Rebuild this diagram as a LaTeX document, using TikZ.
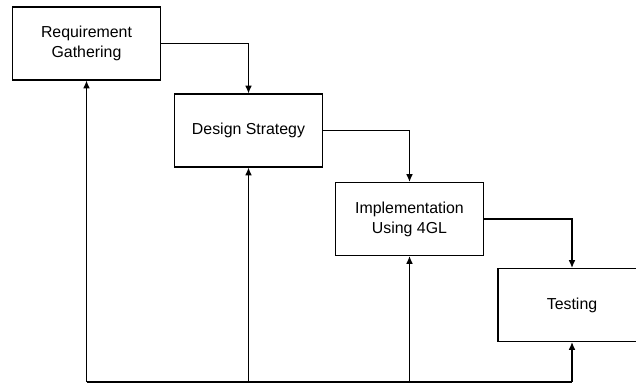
\documentclass[tikz,border=0pt]{standalone}
\usepackage{fontspec}
\setmainfont{Liberation Sans}
\usetikzlibrary{arrows.meta}
\tikzset{
    phase/.style={draw, line width=0.9pt, minimum width=3.7cm, minimum height=1.82cm,
        align=center, font=\fontsize{11.3}{14.2}\selectfont},
    flow/.style={draw, line width=0.9pt, -{Latex[length=5.5pt,width=4.8pt]}}
}
\begin{document}
\begin{tikzpicture}[x=0.025cm, y=-0.025cm]
            \useasboundingbox (0,0) rectangle (636,385);
            \node [phase] (req) at (86.5,43.5) {Requirement\\Gathering};
            \node [phase] (des) at (248.5,130.5) {Design Strategy};
            \node [phase] (imp) at (409.5,219) {Implementation\\Using 4GL};
            \node [phase] (tst) at (572,305) {Testing};
            \coordinate (base) at (86.5,382);
            \draw [flow] (req.east) -| (des.north);
            \draw [flow] (des.east) -| (imp.north);
            \draw [flow] (imp.east) -| (tst.north);
            \draw [line width=0.9pt] (base) -- (tst.south |- base);
            \foreach \n in {req,des,imp,tst}
                \draw [flow] (\n.south |- base) -- (\n.south);
        \end{tikzpicture}
\end{document}
